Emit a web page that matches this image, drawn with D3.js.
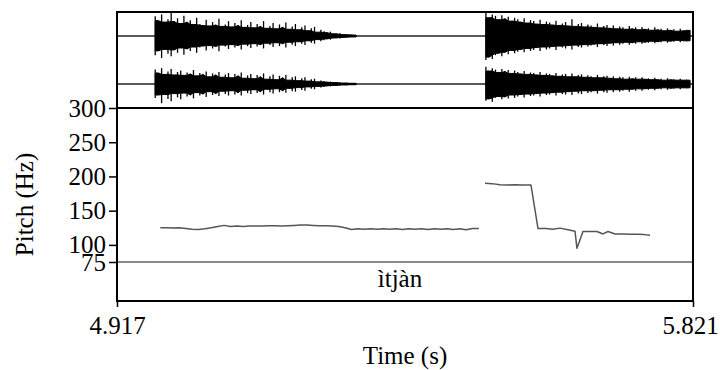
<!DOCTYPE html>
<html>
<head>
<meta charset="utf-8">
<script src="https://cdn.jsdelivr.net/npm/d3@7"></script>
<style>
  html, body { margin: 0; padding: 0; background: #fff; }
  svg { display: block; }
</style>
</head>
<body>
<svg id="chart" width="720" height="370" font-family="Liberation Serif"></svg>
<script>
// Time window of the excerpt (s)
const timeRange = [4.917, 5.821];
const timeTicks = [4.917, 5.821];

// Pitch axis (Hz)
const pitchRange = [75, 300];
const pitchTicks = [75, 100, 150, 200, 250, 300];

// Interval tier label
const tierLabel = "ìtjàn";

// Pitch track, first voiced stretch: frames every 10 ms starting at 4.985 s
const pitch1Start = 4.985;
const pitch1Step = 0.01;
const pitch1Values = [125, 125, 124.5, 125, 124, 123, 122.5, 123.5, 125, 127,
  128.5, 127, 127.5, 127, 127.5, 127.5, 127.5, 128, 128, 127.5,
  128, 128.5, 129, 129, 128.5, 128, 128, 127.5, 127, 125,
  122.5, 123.5, 123, 123.5, 123, 123.5, 123, 123.5, 122.5, 123.5,
  123, 123.5, 122.5, 123.5, 123, 123.5, 122.5, 123.5, 122, 124, 124];

// Pitch track, second voiced stretch (time in s, F0 in Hz)
const pitch2Times = [5.4946, 5.5056, 5.5181, 5.5291, 5.5416, 5.5526, 5.5667, 5.5777,
  5.5903, 5.6012, 5.6122, 5.6248, 5.6358, 5.6389, 5.6483, 5.6593, 5.6703,
  5.6797, 5.6876, 5.6986, 5.7096, 5.7221, 5.7331, 5.7441, 5.7535];
const pitch2Values = [190, 189.5, 188, 187.5, 188, 187.5, 187.5, 124,
  124, 123, 124.5, 122, 120, 95, 119.5, 119.5, 119.5,
  116, 119.5, 116, 116, 115.5, 115.5, 115, 114];

// Waveform peak envelopes (percent of full scale), 5 ms frames
const waveStep = 0.005;
const burst1Start = 4.977;
const burst2Start = 5.496;

const ch1Burst1Max = [82,64,90,58,70,96,60,74,52,84,58,66,48,76,50,44,68,42,58,46,72,40,48,62,38,54,44,66,36,46,58,34,50,40,62,32,42,54,30,48,36,56,28,40,50,26,36,44,22,32,38,16,26,20,14,18,10,9,12,6,7,5,5,4];
const ch1Burst1Min = [-80,-62,-92,-56,-74,-84,-58,-70,-50,-78,-54,-62,-46,-70,-48,-42,-60,-40,-52,-44,-64,-38,-44,-54,-36,-48,-40,-56,-34,-42,-50,-32,-44,-36,-52,-30,-38,-46,-28,-42,-32,-48,-26,-36,-42,-24,-32,-38,-20,-28,-32,-15,-22,-18,-12,-15,-9,-8,-10,-6,-6,-5,-4,-4];
const ch2Burst1Max = [60,46,66,40,52,62,38,50,56,36,48,42,58,34,46,40,52,30,44,38,50,28,40,46,26,42,34,48,24,36,42,22,38,30,44,20,32,40,18,34,26,38,16,28,32,14,24,28,12,20,22,9,15,12,8,10,6,6,7,4,5,4,3,3];
const ch2Burst1Min = [-58,-46,-80,-44,-62,-72,-40,-56,-64,-38,-52,-46,-60,-36,-48,-42,-54,-32,-46,-40,-50,-30,-42,-48,-28,-44,-36,-48,-26,-38,-42,-24,-38,-32,-44,-22,-34,-40,-20,-34,-28,-36,-18,-30,-32,-15,-25,-28,-12,-20,-22,-10,-15,-12,-8,-10,-6,-6,-7,-4,-5,-4,-3,-3];

const ch1Burst2Max = [98,76,90,84,68,86,72,80,62,76,70,58,74,54,66,62,50,68,48,60,56,46,64,44,52,58,42,70,40,50,54,38,48,44,36,52,34,42,46,32,44,30,40,36,28,42,30,36,26,38,28,32,24,36,26,30,22,32,24,28,20,30,22,26,24];
const ch1Burst2Min = [-100,-88,-96,-80,-72,-84,-68,-76,-60,-72,-66,-56,-68,-52,-62,-58,-48,-62,-46,-56,-52,-44,-58,-42,-48,-52,-40,-56,-38,-46,-48,-36,-44,-40,-34,-46,-32,-38,-42,-30,-40,-28,-36,-32,-26,-36,-28,-32,-24,-32,-26,-28,-22,-30,-24,-26,-20,-28,-22,-24,-18,-26,-20,-22,-20];
const ch2Burst2Max = [72,54,66,60,48,62,52,58,44,56,50,42,54,40,48,46,38,50,36,44,42,34,46,32,40,42,30,44,30,38,40,28,36,32,26,38,26,32,34,24,32,22,30,28,20,30,22,28,20,28,20,24,18,26,18,22,16,24,18,20,16,22,16,18,16];
const ch2Burst2Min = [-70,-62,-74,-58,-52,-64,-54,-60,-46,-58,-52,-44,-56,-42,-50,-48,-40,-52,-38,-46,-44,-36,-48,-34,-42,-44,-32,-46,-30,-40,-42,-28,-38,-34,-28,-40,-26,-34,-36,-24,-34,-24,-32,-28,-22,-32,-22,-28,-20,-28,-20,-24,-18,-26,-18,-22,-16,-24,-18,-20,-16,-22,-16,-18,-16];

// ---- layout ----
const plotLeft = 117, plotRight = 693, plotTop = 12, wavBottom = 108, plotBottom = 301;
const fontName = "Liberation Serif";
const svg = d3.select("#chart");

const x = d3.scaleLinear().domain(timeRange).range([plotLeft, plotRight]);
const y = d3.scaleLinear().domain(pitchRange).range([262, wavBottom]);
const amp1 = d3.scaleLinear().domain([-100, 100]).range([60, plotTop]);
const amp2 = d3.scaleLinear().domain([-100, 100]).range([wavBottom, 60]);

function serifText(sel) {
  return sel.attr("font-family", fontName).style("font-family", fontName)
    .attr("font-size", 25).style("font-size", "25px").attr("fill", "#000");
}

// ---- labels ----
serifText(svg.append("text"))
  .attr("x", 400).attr("y", 287)
  .attr("text-anchor", "middle")
  .text(tierLabel);

serifText(svg.append("text"))
  .attr("x", (plotLeft + plotRight) / 2).attr("y", 364)
  .attr("text-anchor", "middle")
  .text("Time (s)");

serifText(svg.append("text"))
  .attr("transform", `translate(33,${(wavBottom + plotBottom) / 2}) rotate(-90)`)
  .attr("text-anchor", "middle")
  .text("Pitch (Hz)");

// ---- axes ----
const yAxis = svg.append("g")
  .attr("transform", `translate(${plotLeft},0)`)
  .call(d3.axisLeft(y).tickValues(pitchTicks).tickSize(8).tickPadding(3));
yAxis.attr("font-family", fontName).attr("font-size", 25);
yAxis.select(".domain").remove();
yAxis.selectAll(".tick line").attr("stroke", "#000").attr("stroke-width", 1.5);
serifText(yAxis.selectAll(".tick text"));

const xAxis = svg.append("g")
  .attr("transform", `translate(0,${plotBottom})`)
  .call(d3.axisBottom(x).tickValues(timeTicks).tickFormat(d3.format(".3f")).tickSize(6).tickPadding(9));
xAxis.attr("font-family", fontName).attr("font-size", 25);
xAxis.select(".domain").remove();
xAxis.selectAll(".tick line").attr("stroke", "#000").attr("stroke-width", 1.5);
serifText(xAxis.selectAll(".tick text"))
  .attr("dx", (d, i) => i === timeTicks.length - 1 ? -3 : 0);

// ---- waveform (two channels) ----
function burst(start, maxs, mins) {
  const n = Math.min(maxs.length, mins.length);
  return d3.range(n).map(i => {
    const a = Math.max(0, i - 1), b = Math.min(n - 1, i + 1);
    return {
      t: start + i * waveStep,
      hi: maxs[i], lo: mins[i],
      // dense body of the signal: the smaller excursion among neighbouring frames
      coreHi: Math.min(maxs[a], maxs[i], maxs[b]),
      coreLo: Math.max(mins[a], mins[i], mins[b])
    };
  });
}
const wave = svg.append("g");
[[amp1, [[burst1Start, ch1Burst1Max, ch1Burst1Min], [burst2Start, ch1Burst2Max, ch1Burst2Min]]],
 [amp2, [[burst1Start, ch2Burst1Max, ch2Burst1Min], [burst2Start, ch2Burst2Max, ch2Burst2Min]]]]
.forEach(([amp, bursts]) => {
  // silent stretches: near-zero baseline
  wave.append("line")
    .attr("x1", plotLeft).attr("x2", plotRight)
    .attr("y1", amp(0)).attr("y2", amp(0))
    .attr("stroke", "#222").attr("stroke-width", 1.3);
  const core = d3.area().x(d => x(d.t)).y0(d => amp(d.coreLo)).y1(d => amp(d.coreHi));
  bursts.forEach(([s, hi, lo]) => {
    const frames = burst(s, hi, lo);
    wave.append("path")
      .datum(frames)
      .attr("d", core)
      .attr("fill", "#000")
      .attr("stroke", "#000").attr("stroke-width", 1);
    // per-frame peak strokes
    wave.append("g").selectAll("line").data(frames).join("line")
      .attr("x1", d => x(d.t)).attr("x2", d => x(d.t))
      .attr("y1", d => amp(d.lo)).attr("y2", d => amp(d.hi))
      .attr("stroke", "#000").attr("stroke-width", 1.3);
  });
});

// ---- 75 Hz floor line ----
svg.append("line")
  .attr("x1", plotLeft).attr("x2", plotRight)
  .attr("y1", y(75)).attr("y2", y(75))
  .attr("stroke", "#8a8a8a").attr("stroke-width", 2);

// ---- pitch track ----
const pitchLine = d3.line().x(d => x(d.t)).y(d => y(d.f));
const seg1 = pitch1Values.map((f, i) => ({ t: pitch1Start + i * pitch1Step, f }));
const seg2 = pitch2Times.map((t, i) => ({ t, f: pitch2Values[i] }));
[seg1, seg2].forEach(seg => {
  svg.append("path")
    .datum(seg)
    .attr("d", pitchLine)
    .attr("fill", "none")
    .attr("stroke", "#555")
    .attr("stroke-width", 1.5)
    .attr("stroke-linejoin", "round");
});

// ---- frame ----
svg.append("rect")
  .attr("x", plotLeft).attr("y", plotTop)
  .attr("width", plotRight - plotLeft).attr("height", plotBottom - plotTop)
  .attr("fill", "none").attr("stroke", "#000").attr("stroke-width", 2);
svg.append("line")
  .attr("x1", plotLeft).attr("x2", plotRight)
  .attr("y1", wavBottom).attr("y2", wavBottom)
  .attr("stroke", "#000").attr("stroke-width", 2);
</script>
</body>
</html>
